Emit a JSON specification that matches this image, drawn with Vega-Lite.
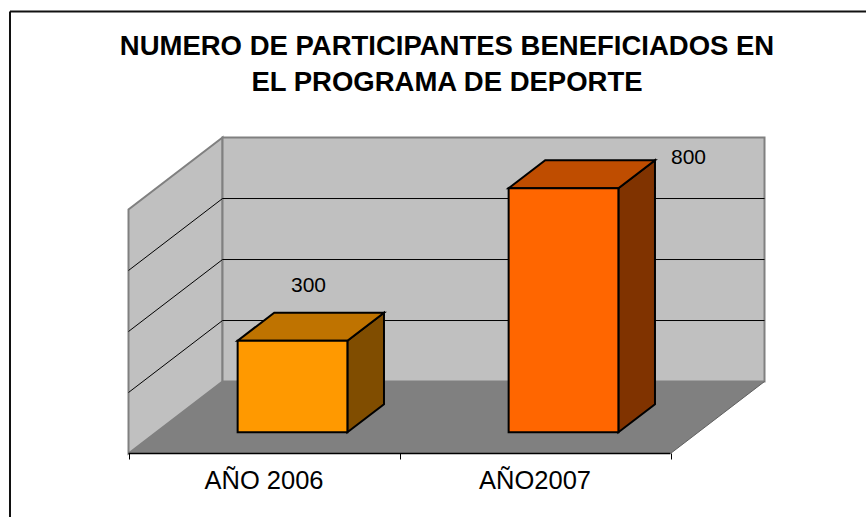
{
"$schema":"https://vega.github.io/schema/vega-lite/v6.json",
"width":866,"height":517,"padding":0,"autosize":"none","background":"white",
"config":{"view":{"stroke":null},"font":"Liberation Sans"},
"title":{"text":["NUMERO DE PARTICIPANTES BENEFICIADOS EN","EL PROGRAMA DE DEPORTE"],"font":"Liberation Sans","fontSize":27.5,"fontWeight":"bold","color":"black","anchor":"middle","frame":"group","baseline":"top","dx":14,"offset":-96,"lineHeight":36},
"datasets":{
"bars":[{"year":"AÑO 2006","value":300,"slot":0},{"year":"AÑO2007","value":800,"slot":1}],
"levels":[{"level":200},{"level":400},{"level":600}],
"room":[{"span":2,"depth":1,"height":800}]
},
"encoding":{
"x":{"field":"px","type":"quantitative","scale":{"domain":[-0.4742,2.7214],"nice":false,"zero":false},"axis":{"values":[0,1,2],"labels":false,"domain":false,"grid":false,"title":null,"tickColor":"black","tickSize":6,"tickWidth":1,"offset":-64,"zindex":1}},
"y":{"field":"py","type":"quantitative","stack":null,"scale":{"domain":[-208.16,1486.84],"nice":false,"zero":false},"axis":null}
},
"layer":[
{"data":{"name":"room"},"transform":[{"calculate":"[0,1]","as":"k"},{"flatten":["k"]},{"calculate":"datum.k*0.3469","as":"px"},{"calculate":"datum.k*236","as":"py"},{"calculate":"datum.height+datum.k*236","as":"py2"}],
 "mark":{"type":"area","fill":"#C0C0C0","stroke":"#808080","strokeWidth":2},"encoding":{"y2":{"field":"py2"}}},
{"data":{"name":"room"},"transform":[{"calculate":"0.3469","as":"px"},{"calculate":"datum.span+0.3469","as":"px2"},{"calculate":"236","as":"py"},{"calculate":"datum.height+236","as":"py2"}],
 "mark":{"type":"rect","fill":"#C0C0C0","stroke":"#808080","strokeWidth":2},"encoding":{"x2":{"field":"px2"},"y2":{"field":"py2"}}},
{"data":{"name":"room"},"transform":[{"calculate":"[0,1,2,3]","as":"k"},{"flatten":["k"]},{"calculate":"[0,0.3469,2,2.3469][datum.k]","as":"px"},{"calculate":"datum.k==3?236:0","as":"py"},{"calculate":"datum.k==0?0:236","as":"py2"}],
 "mark":{"type":"area","fill":"#808080"},"encoding":{"y2":{"field":"py2"}}},
{"data":{"name":"levels"},"transform":[{"calculate":"0.3469","as":"px"},{"calculate":"2.3469","as":"px2"},{"calculate":"datum.level+236","as":"py"}],
 "mark":{"type":"rule","color":"black","strokeWidth":1},"encoding":{"x2":{"field":"px2"}}},
{"data":{"name":"levels"},"transform":[{"calculate":"0","as":"px"},{"calculate":"0.3469","as":"px2"},{"calculate":"datum.level","as":"py"},{"calculate":"datum.level+236","as":"py2"}],
 "mark":{"type":"rule","color":"black","strokeWidth":1},"encoding":{"x2":{"field":"px2"},"y2":{"field":"py2"}}},
{"data":{"name":"room"},"transform":[{"calculate":"0","as":"px"},{"calculate":"datum.span","as":"px2"},{"calculate":"0","as":"py"}],
 "mark":{"type":"rule","color":"black","strokeWidth":1.5},"encoding":{"x2":{"field":"px2"}}},
{"data":{"name":"room"},"transform":[{"calculate":"datum.span","as":"px"},{"calculate":"datum.span+0.3469","as":"px2"},{"calculate":"0","as":"py"},{"calculate":"236","as":"py2"}],
 "mark":{"type":"rule","color":"#606060","strokeWidth":1},"encoding":{"x2":{"field":"px2"},"y2":{"field":"py2"}}},
{"data":{"name":"bars"},"transform":[{"calculate":"[0,1]","as":"k"},{"flatten":["k"]},{"calculate":"datum.slot+0.8077+datum.k*0.135","as":"px"},{"calculate":"69.9+datum.k*91.8","as":"py"},{"calculate":"datum.value+69.9+datum.k*91.8","as":"py2"}],
 "mark":{"type":"area","stroke":"black","strokeWidth":2,"strokeJoin":"miter"},
 "encoding":{"y2":{"field":"py2"},"color":{"field":"year","type":"nominal","legend":null,"scale":{"domain":["AÑO 2006","AÑO2007"],"range":["#804D00","#803300"]}}}},
{"data":{"name":"bars"},"transform":[{"calculate":"[0,1,2,3]","as":"k"},{"flatten":["k"]},{"calculate":"datum.slot+[0.4027,0.5377,0.8077,0.9427][datum.k]","as":"px"},{"calculate":"datum.value+69.9+(datum.k==3?91.8:0)","as":"py"},{"calculate":"datum.value+69.9+(datum.k==0?0:91.8)","as":"py2"}],
 "mark":{"type":"area","stroke":"black","strokeWidth":2,"strokeJoin":"miter"},
 "encoding":{"y2":{"field":"py2"},"color":{"field":"year","type":"nominal","legend":null,"scale":{"domain":["AÑO 2006","AÑO2007"],"range":["#BF7300","#BF4D00"]}}}},
{"data":{"name":"bars"},"transform":[{"calculate":"datum.slot+0.4027","as":"px"},{"calculate":"datum.slot+0.8077","as":"px2"},{"calculate":"69.9","as":"py"},{"calculate":"datum.value+69.9","as":"py2"}],
 "mark":{"type":"rect","stroke":"black","strokeWidth":2},
 "encoding":{"x2":{"field":"px2"},"y2":{"field":"py2"},"color":{"field":"year","type":"nominal","legend":null,"scale":{"domain":["AÑO 2006","AÑO2007"],"range":["#FF9900","#FF6600"]}}}},
{"data":{"name":"bars"},"transform":[{"filter":"datum.slot==0"},{"calculate":"datum.slot+0.6052","as":"px"},{"calculate":"datum.value+69.9","as":"py"}],
 "mark":{"type":"text","font":"Liberation Sans","fontSize":21,"color":"black","dx":16,"dy":-55},"encoding":{"text":{"field":"value","type":"quantitative"}}},
{"data":{"name":"bars"},"transform":[{"filter":"datum.slot==1"},{"calculate":"datum.slot+0.6052","as":"px"},{"calculate":"datum.value+69.9","as":"py"}],
 "mark":{"type":"text","font":"Liberation Sans","fontSize":21,"color":"black","dx":125,"dy":-30},"encoding":{"text":{"field":"value","type":"quantitative"}}},
{"data":{"name":"bars"},"transform":[{"calculate":"datum.slot+0.5","as":"px"},{"calculate":"0","as":"py"}],
 "mark":{"type":"text","font":"Liberation Sans","fontSize":25.5,"color":"black","dy":27.5},"encoding":{"text":{"field":"year","type":"nominal"}}},
{"data":{"name":"room"},"transform":[{"calculate":"-0.4373","as":"px"},{"calculate":"-0.4373","as":"px2"},{"calculate":"-209.8","as":"py"},{"calculate":"1449","as":"py2"}],
 "mark":{"type":"rule","color":"#111111","strokeWidth":2},"encoding":{"x2":{"field":"px2"},"y2":{"field":"py2"}}},
{"data":{"name":"room"},"transform":[{"calculate":"-0.4373","as":"px"},{"calculate":"2.7214","as":"px2"},{"calculate":"1449","as":"py"}],
 "mark":{"type":"rule","color":"#111111","strokeWidth":2},"encoding":{"x2":{"field":"px2"}}}
],
"resolve":{"scale":{"color":"independent"}}
}
